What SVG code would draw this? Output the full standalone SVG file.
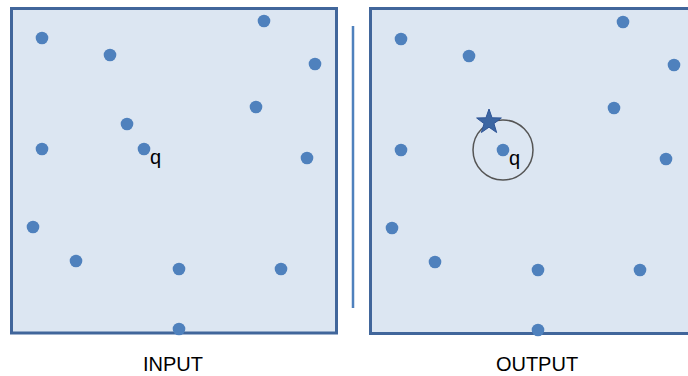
<svg xmlns="http://www.w3.org/2000/svg" width="688" height="376" viewBox="0 0 688 376">
<style>
.panel{fill:#dce6f2;stroke:#41669b;stroke-width:3}
.pt{fill:#4f81bd}
.lbl{font-family:"Liberation Sans",Arial,sans-serif;font-size:20px;fill:#000;text-anchor:middle}
.q{font-family:"Liberation Sans",Arial,sans-serif;font-size:20px;fill:#000}
</style>
<defs>
<circle id="p" r="6.3" class="pt"/>
</defs>
<rect width="688" height="376" fill="#fff"/>
<g id="input-panel">
<rect class="panel" x="11.5" y="8.5" width="325" height="324.5"/>
<use href="#p" x="42" y="38"/>
<use href="#p" x="110" y="55"/>
<use href="#p" x="264" y="21"/>
<use href="#p" x="315" y="64"/>
<use href="#p" x="256" y="107"/>
<use href="#p" x="127" y="124"/>
<use href="#p" x="42" y="149"/>
<use href="#p" x="144" y="149"/>
<use href="#p" x="307" y="158"/>
<use href="#p" x="33" y="227"/>
<use href="#p" x="76" y="261"/>
<use href="#p" x="179" y="269"/>
<use href="#p" x="281" y="269"/>
<use href="#p" x="179" y="329"/>
<text class="q" x="150" y="164">q</text>
<text class="lbl" x="173" y="371">INPUT</text>
</g>
<g id="divider">
<line x1="353" y1="26" x2="353" y2="308" stroke="#4f81bd" stroke-width="2.5"/>
</g>
<g id="output-panel">
<rect class="panel" x="370.5" y="8.5" width="330" height="325"/>
<use href="#p" x="401" y="39"/>
<use href="#p" x="469" y="56"/>
<use href="#p" x="623" y="22"/>
<use href="#p" x="674" y="65"/>
<use href="#p" x="614" y="108"/>
<use href="#p" x="401" y="150"/>
<use href="#p" x="503" y="150"/>
<use href="#p" x="666" y="159"/>
<use href="#p" x="392" y="228"/>
<use href="#p" x="435" y="262"/>
<use href="#p" x="538" y="270"/>
<use href="#p" x="640" y="270"/>
<use href="#p" x="538" y="330"/>
<circle cx="503" cy="150" r="30" fill="none" stroke="#555" stroke-width="1.5"/>
<polygon points="489,109 492.06,117.79 501.36,117.98 493.95,123.61 496.64,132.52 489,127.2 481.36,132.52 484.05,123.61 476.64,117.98 485.94,117.79" fill="#3c66a2" stroke="#2f5597" stroke-width="1"/>
<text class="q" x="509" y="165">q</text>
<text class="lbl" x="537" y="371">OUTPUT</text>
</g>
</svg>
